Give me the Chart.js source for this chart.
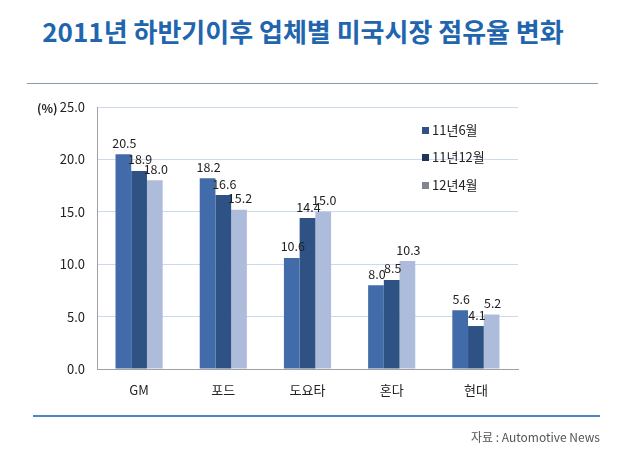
<!DOCTYPE html>
<html>
<head>
<meta charset="utf-8">
<script src="https://cdn.jsdelivr.net/npm/chart.js@4"></script>
<style>
  body { margin: 0; background: #fff; font-family: "Noto Sans CJK KR", sans-serif; }
  #wrap { position: relative; width: 630px; height: 460px; overflow: hidden; }
  #titulo { position: absolute; left: 0; width: 606px; top: 12px; text-align: center;
            font-size: 26px; font-weight: bold; color: #2065ae; letter-spacing: 0px; }
  #linha1 { position: absolute; left: 27px; width: 571px; top: 83px; height: 1px; background: #8a99ad; }
  #linha2 { position: absolute; left: 33px; width: 567px; top: 415px; height: 2px; background: #4a86c8; }
  #fonte { position: absolute; right: 30px; top: 428px; font-size: 12px; color: #555; }
  canvas { position: absolute; left: 0; top: 0; }
</style>
</head>
<body>
<div id="wrap">
  <div id="titulo">2011년 하반기이후 업체별 미국시장 점유율 변화</div>
  <div id="linha1"></div>
  <canvas id="grafico" width="630" height="460"></canvas>
  <div id="linha2"></div>
  <div id="fonte">자료 : Automotive News</div>
</div>
<script>
// dados
const empresas = ['GM', '포드', '도요타', '혼다', '현대'];
const series = ['11년6월', '11년12월', '12년4월'];
const jun11 = [20.5, 18.2, 10.6, 8.0, 5.6];
const dez11 = [18.9, 16.6, 14.4, 8.5, 4.1];
const abr12 = [18.0, 15.2, 15.0, 10.3, 5.2];
const coresBarra = ['#416ca9', '#2d5283', '#aebcdb'];
const coresLegenda = ['#2f5183', '#1f3659', '#80868f'];
const fonte = '"Noto Sans CJK KR", "Noto Sans", sans-serif';

// rotulos em cima das barras
const rotulos = {
    id: 'rotulos',
    afterDatasetsDraw(chart) {
        const ctx = chart.ctx;
        ctx.save();
        ctx.font = '12.5px ' + fonte;
        ctx.fillStyle = '#222';
        ctx.textAlign = 'center';
        ctx.textBaseline = 'bottom';
        chart.data.datasets.forEach((ds, i) => {
            chart.getDatasetMeta(i).data.forEach((bar, j) => {
                ctx.fillText(ds.data[j].toFixed(1), bar.x + 1, bar.y - 5);
            });
        });
        ctx.restore();
    }
};

// legenda dentro do grafico + (%)
const legenda = {
    id: 'legenda',
    afterDraw(chart) {
        const ctx = chart.ctx;
        ctx.save();
        ctx.font = 'bold 12px ' + fonte;
        ctx.fillStyle = '#222';
        ctx.textBaseline = 'middle';
        ctx.fillText('(%)', 37, 108);
        ctx.font = '13px ' + fonte;
        const ys = [130, 157, 185];
        series.forEach((nome, i) => {
            ctx.fillStyle = coresLegenda[i];
            ctx.fillRect(422, ys[i] - 3, 7, 7);
            ctx.fillStyle = '#222';
            ctx.fillText(nome, 432, ys[i]);
        });
        ctx.restore();
    }
};

function criarGrafico() {
    var contexto = document.getElementById('grafico').getContext('2d');
    new Chart(contexto, {
        type: 'bar',
        data: {
            labels: empresas,
            datasets: [
                { label: series[0], data: jun11, backgroundColor: coresBarra[0] },
                { label: series[1], data: dez11, backgroundColor: coresBarra[1] },
                { label: series[2], data: abr12, backgroundColor: coresBarra[2] },
            ],
        },
        options: {
            responsive: false,
            animation: false,
            layout: { padding: { left: 0, top: 107, right: 112, bottom: 0 } },
            datasets: { bar: { categoryPercentage: 0.56, barPercentage: 1.0 } },
            plugins: { legend: { display: false }, tooltip: { enabled: false } },
            scales: {
                x: {
                    afterFit: s => { s.height = 91; },
                    grid: { display: false, drawTicks: false },
                    border: { color: '#a0a0a0' },
                    ticks: { padding: 13, color: '#222', font: { size: 13, family: fonte } },
                },
                y: {
                    min: 0, max: 25,
                    afterFit: s => { s.width = 97; },
                    grid: { color: '#cbdaf0', drawTicks: false },
                    border: { color: '#a0a0a0' },
                    ticks: {
                        stepSize: 5, padding: 12, color: '#222',
                        font: { size: 13, family: fonte },
                        callback: v => v.toFixed(1),
                    },
                },
            },
        },
        plugins: [rotulos, legenda],
    });
}

criarGrafico();
</script>
</body>
</html>
